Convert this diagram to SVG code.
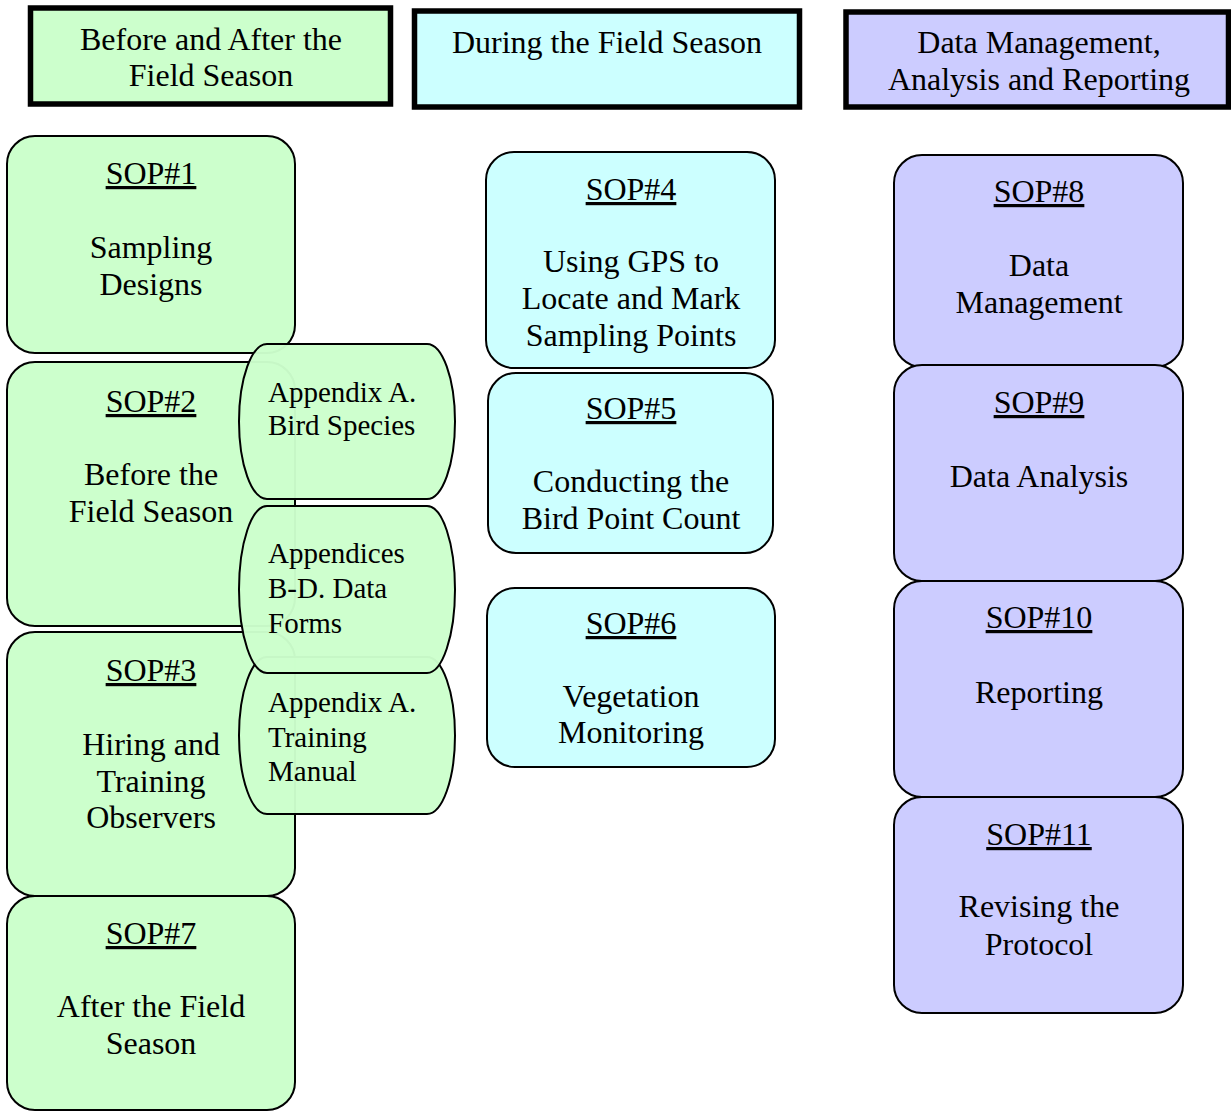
<svg xmlns="http://www.w3.org/2000/svg" width="1231" height="1111" viewBox="0 0 1231 1111">
<defs>
<style>
text{font-family:"Liberation Serif","Times New Roman",serif;fill:#000;}
.t{font-size:32px;text-anchor:middle;}
.u{text-decoration:underline;}
.a{font-size:29px;text-anchor:start;}
.hdr{stroke:#000;stroke-width:5.5;}
.sop{stroke:#000;stroke-width:2;}
.app{stroke:#000;stroke-width:2;fill:#CCFFCC;fill-opacity:0.97;}
.g{fill:#CCFFCC;}
.c{fill:#CCFFFF;}
.p{fill:#CCCCFF;}
</style>
</defs>
<rect width="1231" height="1111" fill="#fff"/>

<g id="header-before-after">
<rect class="hdr g" x="30.5" y="8" width="360" height="96"/>
<text class="t" x="211" y="50">Before and After the</text>
<text class="t" x="211" y="86">Field Season</text>
</g>
<g id="header-during">
<rect class="hdr c" x="414.5" y="11" width="385" height="96"/>
<text class="t" x="607" y="53">During the Field Season</text>
</g>
<g id="header-data">
<rect class="hdr p" x="846" y="12" width="382.5" height="95"/>
<text class="t" x="1039" y="53">Data Management,</text>
<text class="t" x="1039" y="90">Analysis and Reporting</text>
</g>

<g id="sop2">
<rect class="sop g" x="7" y="362" width="288" height="264" rx="28"/>
<text class="t u" x="151" y="412">SOP#2</text>
<text class="t" x="151" y="485">Before the</text>
<text class="t" x="151" y="522">Field Season</text>
</g>
<g id="sop3">
<rect class="sop g" x="7" y="632" width="288" height="264" rx="28"/>
<text class="t u" x="151" y="681">SOP#3</text>
<text class="t" x="151" y="755">Hiring and</text>
<text class="t" x="151" y="792">Training</text>
<text class="t" x="151" y="828">Observers</text>
</g>
<g id="sop7">
<rect class="sop g" x="7" y="896" width="288" height="214" rx="28"/>
<text class="t u" x="151" y="944">SOP#7</text>
<text class="t" x="151" y="1017">After the Field</text>
<text class="t" x="151" y="1054">Season</text>
</g>
<g id="sop1">
<rect class="sop g" x="7" y="136" width="288" height="217" rx="28"/>
<text class="t u" x="151" y="184">SOP#1</text>
<text class="t" x="151" y="258">Sampling</text>
<text class="t" x="151" y="295">Designs</text>
</g>

<g id="appendix-training-manual">
<rect class="app" x="239" y="657" width="216" height="157" rx="28" ry="78.5"/>
<text class="a" x="268" y="712">Appendix A.</text>
<text class="a" x="268" y="747">Training</text>
<text class="a" x="268" y="781">Manual</text>
</g>
<g id="appendix-data-forms">
<rect class="app" x="239" y="506" width="216" height="167" rx="28" ry="83.5"/>
<text class="a" x="268" y="563">Appendices</text>
<text class="a" x="268" y="598">B-D. Data</text>
<text class="a" x="268" y="633">Forms</text>
</g>
<g id="appendix-bird-species">
<rect class="app" x="239" y="344" width="216" height="155" rx="28" ry="77.5"/>
<text class="a" x="268" y="402">Appendix A.</text>
<text class="a" x="268" y="435">Bird Species</text>
</g>

<g id="sop4">
<rect class="sop c" x="486" y="152" width="289" height="216" rx="28"/>
<text class="t u" x="631" y="200">SOP#4</text>
<text class="t" x="631" y="272">Using GPS to</text>
<text class="t" x="631" y="309">Locate and Mark</text>
<text class="t" x="631" y="346">Sampling Points</text>
</g>
<g id="sop5">
<rect class="sop c" x="488" y="373" width="285" height="180" rx="28"/>
<text class="t u" x="631" y="419">SOP#5</text>
<text class="t" x="631" y="492">Conducting the</text>
<text class="t" x="631" y="529">Bird Point Count</text>
</g>
<g id="sop6">
<rect class="sop c" x="487" y="588" width="288" height="179" rx="28"/>
<text class="t u" x="631" y="634">SOP#6</text>
<text class="t" x="631" y="707">Vegetation</text>
<text class="t" x="631" y="743">Monitoring</text>
</g>

<g id="sop8">
<rect class="sop p" x="894" y="155" width="289" height="212" rx="28"/>
<text class="t u" x="1039" y="202">SOP#8</text>
<text class="t" x="1039" y="276">Data</text>
<text class="t" x="1039" y="313">Management</text>
</g>
<g id="sop9">
<rect class="sop p" x="894" y="365" width="289" height="216" rx="28"/>
<text class="t u" x="1039" y="413">SOP#9</text>
<text class="t" x="1039" y="487">Data Analysis</text>
</g>
<g id="sop10">
<rect class="sop p" x="894" y="581" width="289" height="216" rx="28"/>
<text class="t u" x="1039" y="628">SOP#10</text>
<text class="t" x="1039" y="703">Reporting</text>
</g>
<g id="sop11">
<rect class="sop p" x="894" y="797" width="289" height="216" rx="28"/>
<text class="t u" x="1039" y="845">SOP#11</text>
<text class="t" x="1039" y="917">Revising the</text>
<text class="t" x="1039" y="955">Protocol</text>
</g>

<g id="connectors"></g>
</svg>
